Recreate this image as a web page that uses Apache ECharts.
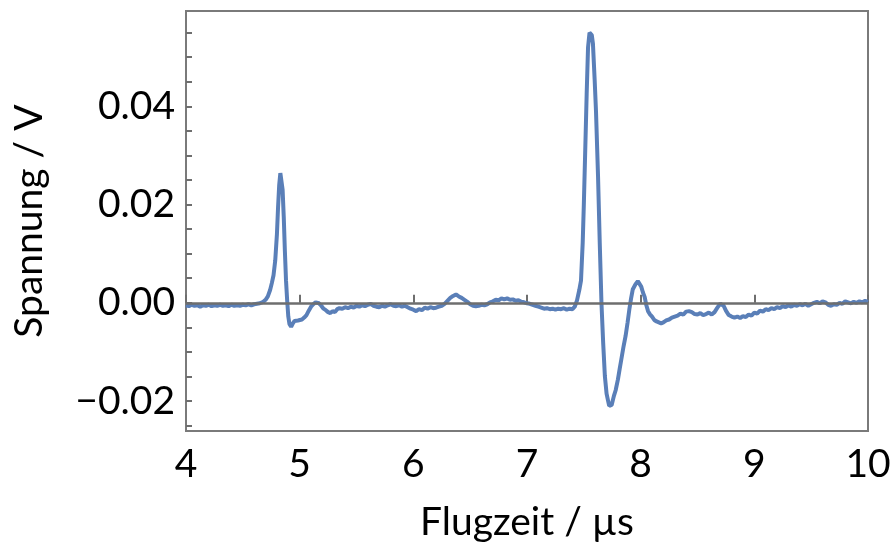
<!DOCTYPE html>
<html>
<head>
<meta charset="utf-8">
<script src="https://cdn.jsdelivr.net/npm/echarts@6/dist/echarts.min.js"></script>
<style>html,body{margin:0;padding:0;background:#fff}#c{width:894px;height:549px}</style>
</head>
<body>
<div id="c"></div>
<script>
// Flugzeit in µs
const timeUs = [
4.00,4.025,4.05,4.075,4.10,4.125,4.15,4.175,4.20,4.225,4.25,4.275,4.30,4.325,4.35,4.375,4.40,4.425,4.45,4.475,4.50,4.525,4.55,4.575,4.60,4.625,4.65,4.665,4.68,4.70,
4.72,4.74,4.755,4.77,4.785,4.80,4.81,4.82,4.83,4.84,4.85,4.86,4.87,4.88,4.89,4.90,4.91,4.925,4.94,4.955,4.97,4.985,5.00,5.02,5.04,5.06,5.08,5.10,5.12,5.14,
5.155,5.17,5.19,5.21,5.23,5.25,5.27,5.29,5.31,5.33,5.35,5.375,5.40,5.425,5.45,5.475,5.50,5.525,5.55,5.575,5.60,5.625,5.65,5.675,5.70,5.725,5.75,5.775,5.80,5.825,
5.85,5.875,5.90,5.925,5.95,5.975,6.00,6.025,6.05,6.075,6.10,6.125,6.15,6.175,6.20,6.225,6.25,6.275,6.30,6.325,6.35,6.375,6.40,6.425,6.45,6.475,6.50,6.525,6.55,6.575,
6.60,6.625,6.65,6.675,6.70,6.725,6.75,6.775,6.80,6.825,6.85,6.875,6.90,6.925,6.95,6.975,7.00,7.025,7.05,7.075,7.10,7.125,7.15,7.175,7.20,7.225,7.25,7.275,7.30,7.325,
7.35,7.375,7.40,7.42,7.44,7.46,7.475,7.49,7.50,7.51,7.525,7.537,7.55,7.56,7.57,7.58,7.595,7.607,7.625,7.64,7.655,7.67,7.685,7.70,7.712,7.723,7.733,7.745,7.764,7.78,
7.80,7.815,7.83,7.85,7.867,7.885,7.90,7.915,7.93,7.955,7.975,7.99,8.005,8.02,8.035,8.05,8.065,8.08,8.10,8.12,8.14,8.16,8.18,8.20,8.225,8.25,8.275,8.30,8.325,8.35,
8.375,8.40,8.425,8.45,8.475,8.50,8.525,8.55,8.575,8.60,8.625,8.65,8.675,8.70,8.715,8.73,8.75,8.775,8.80,8.825,8.85,8.875,8.90,8.925,8.95,8.975,9.00,9.025,9.05,9.075,
9.10,9.125,9.15,9.175,9.20,9.225,9.25,9.275,9.30,9.325,9.35,9.375,9.40,9.425,9.45,9.475,9.50,9.525,9.55,9.575,9.60,9.625,9.65,9.675,9.70,9.725,9.75,9.775,9.80,9.825,
9.85,9.875,9.90,9.925,9.95,9.975,10.00
];
// Spannung in mV
const voltageMilli = [
-0.5,-0.7,-0.4,-0.6,-0.5,-0.8,-0.5,-0.6,-0.4,-0.7,-0.5,-0.6,-0.4,-0.6,-0.5,-0.7,-0.4,-0.6,-0.5,-0.6,-0.4,-0.5,-0.3,-0.5,-0.3,-0.2,-0.1,0.0,0.2,0.6,
1.3,2.6,4.0,5.6,8.6,14.0,19.5,24.0,26.4,26.0,23.0,17.5,10.5,4.5,0.5,-2.8,-4.3,-4.9,-4.2,-3.7,-3.3,-3.6,-3.2,-3.4,-3.0,-2.5,-1.6,-0.8,-0.3,0.1,
0.3,-0.1,-0.6,-1.2,-1.5,-1.9,-2.1,-1.7,-1.9,-1.3,-1.1,-1.2,-0.9,-1.1,-0.8,-1.0,-0.6,-0.8,-0.5,-0.7,-0.4,-0.2,-0.6,-0.8,-0.9,-0.6,-0.8,-0.5,-0.3,-0.6,
-0.7,-0.5,-0.8,-0.6,-0.9,-1.2,-1.4,-1.7,-1.3,-1.5,-1.0,-1.2,-0.9,-1.1,-1.0,-0.8,-0.6,-0.2,0.4,1.0,1.4,1.7,1.3,1.0,0.6,0.2,-0.3,-0.6,-0.7,-0.6,
-0.4,-0.5,-0.3,0.1,0.3,0.6,0.5,0.9,0.7,0.9,0.6,0.7,0.4,0.5,0.2,0.1,-0.1,-0.2,-0.4,-0.6,-0.8,-1.0,-1.2,-1.1,-1.3,-1.2,-1.4,-1.2,-1.3,-1.1,
-1.4,-1.2,-1.3,-0.8,0.5,2.6,4.5,12.2,20.0,29.0,42.5,52.0,55.0,55.3,54.5,52.8,45.5,39.0,25.7,12.2,0.0,-8.1,-14.9,-18.5,-19.8,-21.0,-21.3,-20.8,-19.0,-17.8,
-15.6,-13.5,-11.5,-8.8,-6.8,-4.0,-1.4,0.8,2.7,3.8,4.4,4.0,3.3,2.1,1.2,-0.5,-1.7,-2.3,-2.8,-3.5,-3.8,-4.0,-4.2,-4.0,-3.6,-3.4,-3.0,-2.8,-2.6,-2.2,
-2.4,-1.8,-1.7,-1.9,-2.3,-2.4,-2.1,-2.5,-2.3,-2.0,-2.4,-1.9,-1.0,-0.2,0.0,-0.6,-1.6,-2.5,-2.8,-3.0,-2.8,-3.1,-2.7,-2.9,-2.4,-2.6,-2.0,-2.2,-1.6,-1.8,
-1.3,-1.5,-1.1,-1.3,-0.9,-1.1,-0.7,-0.9,-0.5,-0.8,-0.4,-0.6,-0.3,-0.5,-0.2,-0.6,-0.3,0.0,0.2,-0.1,0.3,0.1,-0.4,-0.6,-0.3,-0.4,0.0,-0.2,0.3,0.1,
-0.1,0.2,0.0,0.3,0.1,0.4,0.2
];
const xTicks = [4,5,6,7,8,9,10];
const yLabelValues = [-0.02,0.00,0.02,0.04];
const yTickValues = [-0.025,-0.02,-0.015,-0.01,-0.005,0,0.005,0.01,0.015,0.02,0.025,0.03,0.035,0.04,0.045,0.05,0.055];

const seriesData = timeUs.map((t,i)=>[t, voltageMilli[i]/1000]);
const FONT = 'Lato';
const chart = echarts.init(document.getElementById('c'), null, {renderer:'canvas'});
chart.setOption({
  animation:false,
  backgroundColor:'#ffffff',
  grid:{left:186,right:26,top:11,bottom:118,show:true,borderColor:'#7a7a7a',borderWidth:2,backgroundColor:'transparent'},
  xAxis:{
    type:'value',min:4,max:10,interval:1,
    name:'Flugzeit / µs',nameLocation:'middle',nameGap:72,
    nameTextStyle:{fontFamily:FONT,fontSize:39,color:'#000'},
    axisLine:{show:false},
    axisTick:{show:true,inside:true,length:8,lineStyle:{color:'#6e6e6e',width:2},customValues:xTicks},
    axisLabel:{fontFamily:FONT,fontSize:39,color:'#000',margin:14,customValues:xTicks},
    splitLine:{show:false}
  },
  yAxis:{
    type:'value',min:-0.0261,max:0.0594,
    name:'Spannung / V',nameLocation:'middle',nameGap:137,nameRotate:90,
    nameTextStyle:{fontFamily:FONT,fontSize:39,color:'#000'},
    axisLine:{show:false},
    axisTick:{show:true,inside:true,length:6,lineStyle:{color:'#6e6e6e',width:2},customValues:yTickValues},
    axisLabel:{fontFamily:FONT,fontSize:39,color:'#000',margin:11,customValues:yLabelValues,
      formatter:v=>(v<0?'\u2212':'')+Math.abs(v).toFixed(2)},
    splitLine:{show:false}
  },
  series:[{
    type:'line',data:seriesData,showSymbol:false,symbol:'none',
    lineStyle:{color:'#5a7fb8',width:4},
    z:3,
    markLine:{silent:true,symbol:'none',label:{show:false},
      lineStyle:{color:'#6e6e6e',width:2.5,type:'solid'},
      data:[{yAxis:0}],z:4}
  }]
});
</script>
</body>
</html>
